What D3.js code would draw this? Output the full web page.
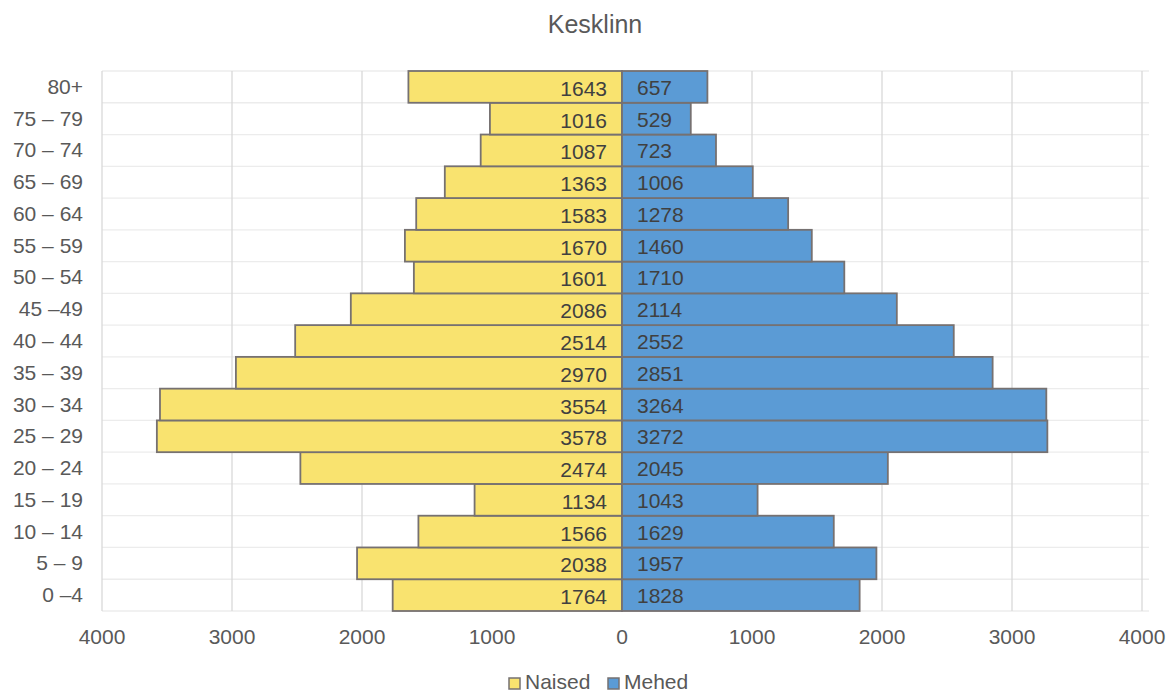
<!DOCTYPE html>
<html><head><meta charset="utf-8">
<script src="https://cdn.jsdelivr.net/npm/d3@7"></script>
<style>body{margin:0;background:#fff;}svg{display:block;font-family:"Liberation Sans",Arial,sans-serif;}</style>
</head><body>
<svg id="c" width="1168" height="693"></svg>
<script>
const categories = ["0 –4","5 – 9","10 – 14","15 – 19","20 – 24","25 – 29","30 – 34","35 – 39","40 – 44","45 –49","50 – 54","55 – 59","60 – 64","65 – 69","70 – 74","75 – 79","80+"];
const naised = [1764,2038,1566,1134,2474,3578,3554,2970,2514,2086,1601,1670,1583,1363,1087,1016,1643];
const mehed = [1828,1957,1629,1043,2045,3272,3264,2851,2552,2114,1710,1460,1278,1006,723,529,657];
const tickValues = [-4000,-3000,-2000,-1000,0,1000,2000,3000,4000];
const seriesNames = ["Naised","Mehed"];
const colors = {Naised:"#F9E36F", Mehed:"#5B9BD5"};

const svg = d3.select("#c");
const x = d3.scaleLinear().domain([-4000,4000]).range([102,1142]);
const y = d3.scaleBand().domain(categories.slice().reverse()).range([71,611]).padding(0);

// title
svg.append("text").attr("x",595).attr("y",33).attr("text-anchor","middle")
  .attr("font-size",25).attr("fill","#595959").text("Kesklinn");

// horizontal gridlines at band boundaries
const bounds = categories.map(c=>y(c)).concat([y.range()[1]]);
svg.append("g").selectAll("line").data(bounds).join("line")
  .attr("x1",102).attr("x2",1149).attr("y1",d=>d).attr("y2",d=>d)
  .attr("stroke","#ececec").attr("stroke-width",1.3);

// vertical gridlines
svg.append("g").selectAll("line").data(tickValues).join("line")
  .attr("x1",d=>x(d)).attr("x2",d=>x(d)).attr("y1",71).attr("y2",611)
  .attr("stroke","#d9d9d9").attr("stroke-width",1.3);

// bars
const g = svg.append("g");
g.selectAll("rect.n").data(categories).join("rect").attr("class","n")
  .attr("x",(d,i)=>x(-naised[i])).attr("width",(d,i)=>x(0)-x(-naised[i]))
  .attr("y",d=>y(d)).attr("height",y.bandwidth())
  .attr("fill",colors.Naised).attr("stroke","#767171").attr("stroke-width",1.8);
g.selectAll("rect.m").data(categories).join("rect").attr("class","m")
  .attr("x",x(0)).attr("width",(d,i)=>x(mehed[i])-x(0))
  .attr("y",d=>y(d)).attr("height",y.bandwidth())
  .attr("fill",colors.Mehed).attr("stroke","#767171").attr("stroke-width",1.8);

// labels
g.selectAll("text.nl").data(categories).join("text").attr("class","nl")
  .attr("x",x(0)-15).attr("y",d=>y(d)+y.bandwidth()/2+9)
  .attr("text-anchor","end").attr("font-size",21).attr("fill","#404040")
  .text((d,i)=>naised[i]);
g.selectAll("text.ml").data(categories).join("text").attr("class","ml")
  .attr("x",x(0)+15).attr("y",d=>y(d)+y.bandwidth()/2+8)
  .attr("text-anchor","start").attr("font-size",21).attr("fill","#404040")
  .text((d,i)=>mehed[i]);

// y axis labels
svg.append("g").selectAll("text").data(categories).join("text")
  .attr("x",83).attr("y",d=>y(d)+y.bandwidth()/2+7)
  .attr("text-anchor","end").attr("font-size",21).attr("fill","#595959").text(d=>d);

// x axis labels
svg.append("g").selectAll("text").data(tickValues).join("text")
  .attr("x",d=>x(d)).attr("y",644)
  .attr("text-anchor","middle").attr("font-size",21).attr("fill","#595959").text(d=>Math.abs(d));

// legend
const lg = svg.append("g");
const legX = [509, 608];
seriesNames.forEach((s,i)=>{
  lg.append("rect").attr("x",legX[i]).attr("y",678).attr("width",11).attr("height",11)
    .attr("fill",colors[s]).attr("stroke","#767171").attr("stroke-width",1.5);
  lg.append("text").attr("x",legX[i]+16).attr("y",689).attr("font-size",21).attr("fill","#595959").text(s);
});
</script>
</body></html>
